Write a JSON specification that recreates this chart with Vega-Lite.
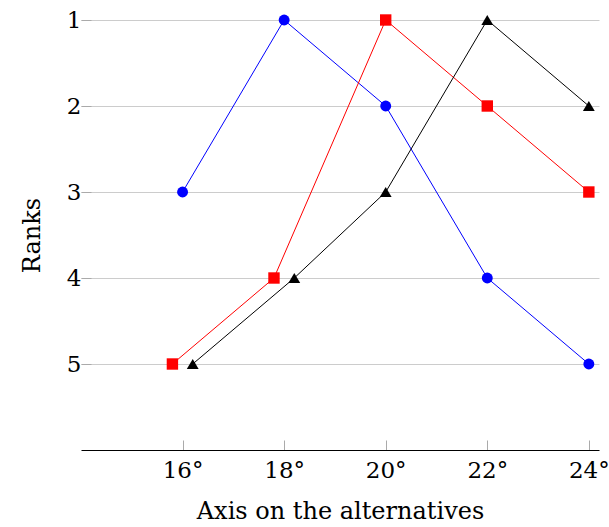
{
  "$schema": "https://vega.github.io/schema/vega-lite/v6.json",
  "width": 518,
  "height": 430,
  "autosize": {"type": "none"},
  "padding": {"left": 81, "top": 20, "right": 10, "bottom": 77},
  "background": "white",
  "config": {
    "view": {"stroke": null},
    "font": "DejaVu Serif",
    "axis": {"labelFont": "DejaVu Serif", "titleFont": "DejaVu Serif", "labelFontSize": 23, "titleFontSize": 24, "titleFontWeight": "normal", "labelColor": "black", "titleColor": "black"}
  },
  "data": {
    "values": [
      {"series": "A", "x": 16, "rank": 3},
      {"series": "A", "x": 18, "rank": 1},
      {"series": "A", "x": 20, "rank": 2},
      {"series": "A", "x": 22, "rank": 4},
      {"series": "A", "x": 24, "rank": 5},
      {"series": "B", "x": 15.8, "rank": 5},
      {"series": "B", "x": 17.8, "rank": 4},
      {"series": "B", "x": 20, "rank": 1},
      {"series": "B", "x": 22, "rank": 2},
      {"series": "B", "x": 24, "rank": 3},
      {"series": "C", "x": 16.2, "rank": 5},
      {"series": "C", "x": 18.2, "rank": 4},
      {"series": "C", "x": 20, "rank": 3},
      {"series": "C", "x": 22, "rank": 1},
      {"series": "C", "x": 24, "rank": 2}
    ]
  },
  "encoding": {
    "x": {
      "field": "x", "type": "quantitative",
      "scale": {"domain": [14, 24.2], "nice": false, "zero": false},
      "axis": {
        "values": [16, 18, 20, 22, 24],
        "labelExpr": "datum.value + '°'",
        "title": "Axis on the alternatives",
        "grid": false,
        "domainColor": "black",
        "domainWidth": 1.2,
        "tickColor": "#aaaaaa",
        "tickSize": -10,
        "labelPadding": 19,
        "titlePadding": 17
      }
    },
    "y": {
      "field": "rank", "type": "quantitative",
      "scale": {"domain": [1, 6], "reverse": true, "nice": false, "zero": false},
      "axis": {
        "values": [1, 2, 3, 4, 5],
        "title": "Ranks",
        "domain": false,
        "grid": true,
        "gridColor": "#cccccc",
        "tickColor": "#aaaaaa",
        "tickSize": -10,
        "labelPadding": 10,
        "titlePadding": 22
      }
    },
    "color": {
      "field": "series", "type": "nominal",
      "scale": {"domain": ["A", "B", "C"], "range": ["#0000ff", "#ff0000", "#000000"]},
      "legend": null
    }
  },
  "layer": [
    {"mark": {"type": "line", "strokeWidth": 1, "clip": false}},
    {
      "mark": {"type": "point", "filled": true, "opacity": 1, "clip": false},
      "encoding": {
        "shape": {
          "field": "series", "type": "nominal",
          "scale": {"domain": ["A", "B", "C"], "range": ["circle", "square", "triangle-up"]},
          "legend": null
        },
        "size": {
          "field": "series", "type": "nominal",
          "scale": {"domain": ["A", "B", "C"], "range": [120, 140, 70]},
          "legend": null
        }
      }
    }
  ]
}
